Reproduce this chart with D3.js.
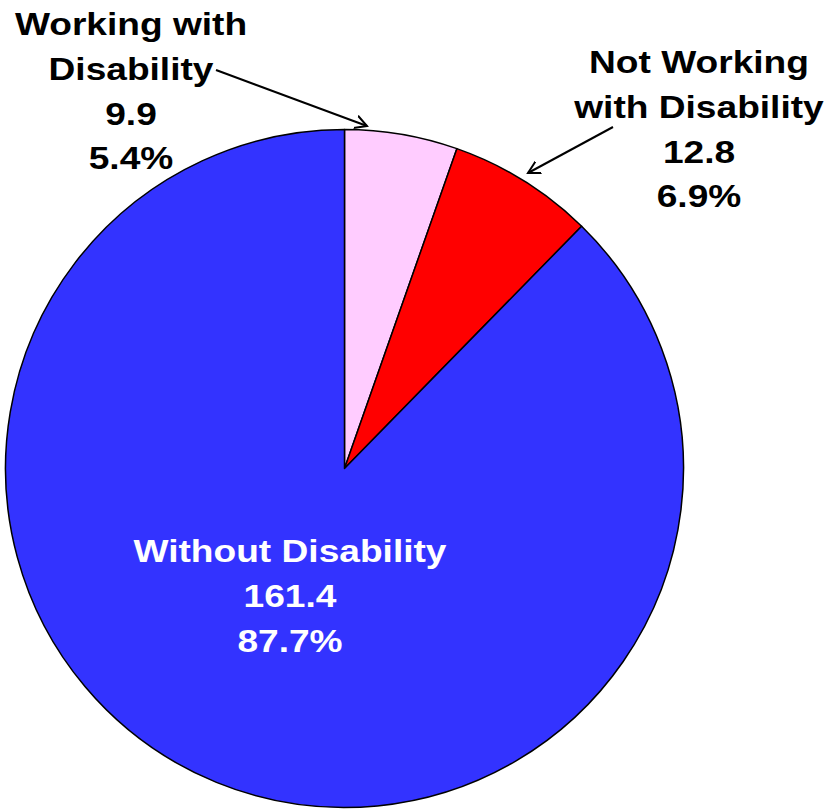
<!DOCTYPE html>
<html><head><meta charset="utf-8">
<script src="https://cdn.jsdelivr.net/npm/d3@7"></script>
<style>html,body{margin:0;padding:0;background:#fff;}svg{display:block;}</style>
</head><body>
<script>
const categories = ["Working with Disability", "Not Working with Disability", "Without Disability"];
const values = [9.9, 12.8, 161.4];
const percents = ["5.4%", "6.9%", "87.7%"];
const colors = ["#FFCCFF", "#FF0000", "#3333FF"];

const W = 826, H = 812;
const cx = 344.5, cy = 468.5, r = 339;
const svg = d3.select("body").append("svg").attr("width", W).attr("height", H);

const defs = svg.append("defs");
defs.append("marker").attr("id", "arr").attr("viewBox", "-12 -8 14 16")
  .attr("refX", 0).attr("refY", 0).attr("markerWidth", 14).attr("markerHeight", 16)
  .attr("markerUnits", "userSpaceOnUse").attr("orient", "auto")
  .append("path").attr("d", "M-12,-6.5 L0,0 L-12,6.5").attr("fill", "none")
  .attr("stroke", "#000").attr("stroke-width", 2);

const pie = d3.pie().sort(null).value(d => d)(values);
const arc = d3.arc().innerRadius(0).outerRadius(r);
const g = svg.append("g").attr("transform", `translate(${cx},${cy})`);
g.selectAll("path.slice").data(pie).join("path").attr("class", "slice")
  .attr("d", arc).attr("fill", (d, i) => colors[i])
  .attr("stroke", "#000").attr("stroke-width", 1.5).attr("stroke-linejoin", "round");

const font = "'Liberation Sans', Arial, sans-serif";
const sx = 1.16;
function label(x, ys, lines, fill) {
  const t = svg.append("g").attr("transform", `translate(${x},0) scale(${sx},1)`)
    .append("text").attr("text-anchor", "middle")
    .attr("font-family", font).attr("font-weight", "bold").attr("font-size", 32).attr("fill", fill);
  lines.forEach((s, i) => t.append("tspan").attr("x", 0).attr("y", ys[i]).text(s));
}
label(131, [35, 80, 125, 169], ["Working with", "Disability", String(values[0]), percents[0]], "#000");
label(699, [73, 118, 163, 207], ["Not Working", "with Disability", String(values[1]), percents[1]], "#000");
label(290, [562, 607, 652], ["Without Disability", String(values[2]), percents[2]], "#fff");

svg.append("line").attr("x1", 216).attr("y1", 70).attr("x2", 367).attr("y2", 126)
  .attr("stroke", "#000").attr("stroke-width", 2).attr("marker-end", "url(#arr)");
svg.append("line").attr("x1", 613).attr("y1", 127).attr("x2", 528).attr("y2", 173)
  .attr("stroke", "#000").attr("stroke-width", 2).attr("marker-end", "url(#arr)");
</script>
</body></html>
